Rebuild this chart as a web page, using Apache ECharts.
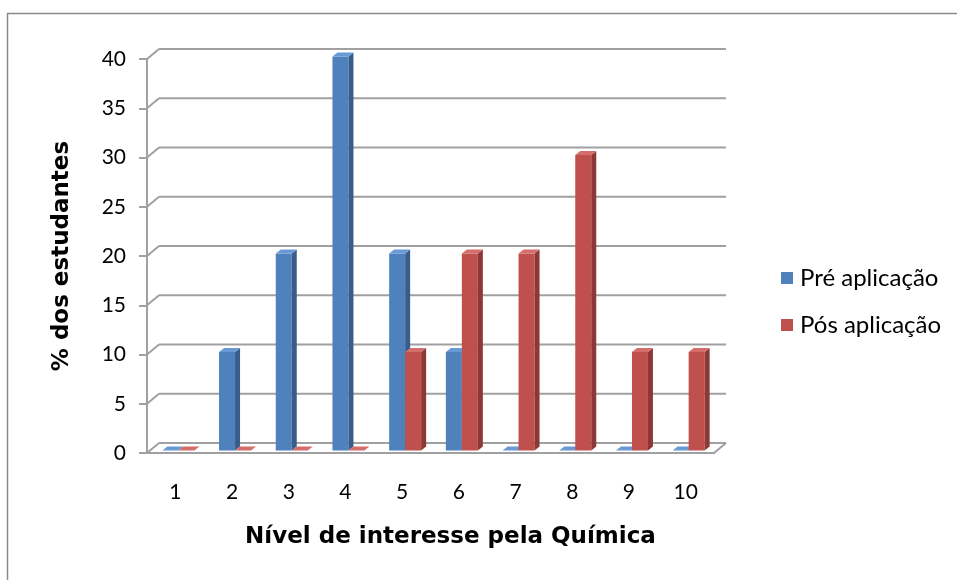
<!DOCTYPE html>
<html>
<head>
<meta charset="utf-8">
<script src="https://cdn.jsdelivr.net/npm/echarts@6/dist/echarts.min.js"></script>
<style>
  html, body { margin: 0; padding: 0; background: #fff; }
  #chart { width: 957px; height: 580px; }
</style>
</head>
<body>
<div id="chart"></div>
<script>
// Interest level in Chemistry, before and after the activity
const categories = ['1', '2', '3', '4', '5', '6', '7', '8', '9', '10'];
const preValues = [0, 10, 20, 40, 20, 10, 0, 0, 0, 0];
const posValues = [0, 0, 0, 0, 10, 20, 20, 30, 10, 10];
const yTicks = [0, 5, 10, 15, 20, 25, 30, 35, 40];
const seriesNames = ['Pré aplicação', 'Pós aplicação'];

// pseudo-3D depth of the chart walls and of the columns
const WALL_DX = 12, WALL_DY = -10;
const BAR_DX = 3, BAR_DY = -2.5;
const SIDE_DX = 5, SIDE_DY = -4;
const BAR_W = 16;
const GRID_COLOR = '#a0a0a0';

const palette = [
  { front: '#4F81BD', side: '#385D8A', top: '#6A9AD6' },
  { front: '#C0504D', side: '#8C3836', top: '#D46E6B' }
];

function wallItem(params, api) {
  const v = api.value(0);
  const cs = params.coordSys;
  const y = api.coord([0, v])[1];
  const left = cs.x, right = cs.x + cs.width;
  const children = [
    { type: 'line', shape: { x1: left, y1: y, x2: left + WALL_DX, y2: y + WALL_DY },
      style: { stroke: GRID_COLOR, lineWidth: 2 } },
    { type: 'line', shape: { x1: left + WALL_DX, y1: y + WALL_DY, x2: right + WALL_DX, y2: y + WALL_DY },
      style: { stroke: GRID_COLOR, lineWidth: 2 } }
  ];
  if (v === 0) {
    children.push({ type: 'line', shape: { x1: right, y1: y, x2: right + WALL_DX, y2: y + WALL_DY },
      style: { stroke: GRID_COLOR, lineWidth: 2 } });
  }
  return { type: 'group', children: children, silent: true };
}

function makeBarRenderer(seriesIdx) {
  const c = palette[seriesIdx];
  return function (params, api) {
    const idx = api.value(0);
    const val = api.value(1);
    const top = api.coord([idx, val]);
    const base = api.coord([idx, 0]);
    const x0 = (seriesIdx === 0 ? top[0] - BAR_W : top[0]) + BAR_DX;
    const x1 = x0 + BAR_W;
    const yTop = top[1] + BAR_DY;
    const yBot = base[1] + BAR_DY;
    const children = [];
    if (yBot - yTop > 0.5) {
      children.push({ type: 'rect', shape: { x: x0, y: yTop, width: BAR_W, height: yBot - yTop },
        style: { fill: c.front } });
      children.push({ type: 'polygon', shape: { points: [[x1, yTop], [x1 + SIDE_DX, yTop + SIDE_DY], [x1 + SIDE_DX, yBot + SIDE_DY], [x1, yBot]] },
        style: { fill: c.side } });
    }
    children.push({ type: 'polygon', shape: { points: [[x0, yTop], [x1, yTop], [x1 + SIDE_DX, yTop + SIDE_DY], [x0 + SIDE_DX, yTop + SIDE_DY]] },
      style: { fill: c.top } });
    return { type: 'group', children: children };
  };
}

const chart = echarts.init(document.getElementById('chart'), null, { renderer: 'canvas' });

const option = {
  backgroundColor: '#ffffff',
  animation: false,
  graphic: [{
    type: 'rect', left: 5, top: 11, z: -10, silent: true,
    shape: { width: 1000, height: 1000 },
    style: { fill: 'none', stroke: '#8a8a8a', lineWidth: 1.5 }
  }],
  grid: { left: 147, right: 243, top: 59, bottom: 127, containLabel: false },
  legend: {
    orient: 'vertical', left: 776, top: 261, itemGap: 23,
    itemWidth: 12, itemHeight: 12, icon: 'rect',
    textStyle: { fontFamily: 'Lato', fontSize: 24, color: '#000', padding: [0, 0, 0, 2] },
    data: seriesNames
  },
  xAxis: {
    type: 'category', data: categories,
    axisLine: { show: true, lineStyle: { color: GRID_COLOR, width: 2 } },
    axisTick: { show: false },
    axisLabel: { fontFamily: 'Lato', fontSize: 21, color: '#000', margin: 29 },
    splitLine: { show: false },
    name: 'Nível de interesse pela Química', nameLocation: 'middle', nameGap: 73,
    nameTextStyle: { fontFamily: 'DejaVu Sans', fontWeight: 'bold', fontSize: 23, color: '#000', padding: [0, 0, 0, 40] }
  },
  yAxis: {
    type: 'value', min: 0, max: 40, interval: 5,
    axisLine: { show: true, lineStyle: { color: GRID_COLOR, width: 2 } },
    axisTick: { show: true, inside: false, length: 8, lineStyle: { color: GRID_COLOR, width: 2 } },
    axisLabel: { fontFamily: 'Lato', fontSize: 21, color: '#000', margin: 21 },
    splitLine: { show: false },
    name: '% dos estudantes', nameLocation: 'middle', nameGap: 73,
    nameTextStyle: { fontFamily: 'DejaVu Sans', fontWeight: 'bold', fontSize: 23, color: '#000' }
  },
  series: [
    {
      type: 'custom', name: 'walls', z: 1, silent: true,
      renderItem: wallItem,
      encode: { y: 0 },
      data: yTicks.map(v => [v])
    },
    {
      type: 'custom', name: seriesNames[0], z: 3,
      itemStyle: { color: palette[0].front },
      renderItem: makeBarRenderer(0),
      encode: { x: 0, y: 1 },
      data: preValues.map((v, i) => [i, v])
    },
    {
      type: 'custom', name: seriesNames[1], z: 3,
      itemStyle: { color: palette[1].front },
      renderItem: makeBarRenderer(1),
      encode: { x: 0, y: 1 },
      data: posValues.map((v, i) => [i, v])
    }
  ]
};

chart.setOption(option);
</script>
</body>
</html>
